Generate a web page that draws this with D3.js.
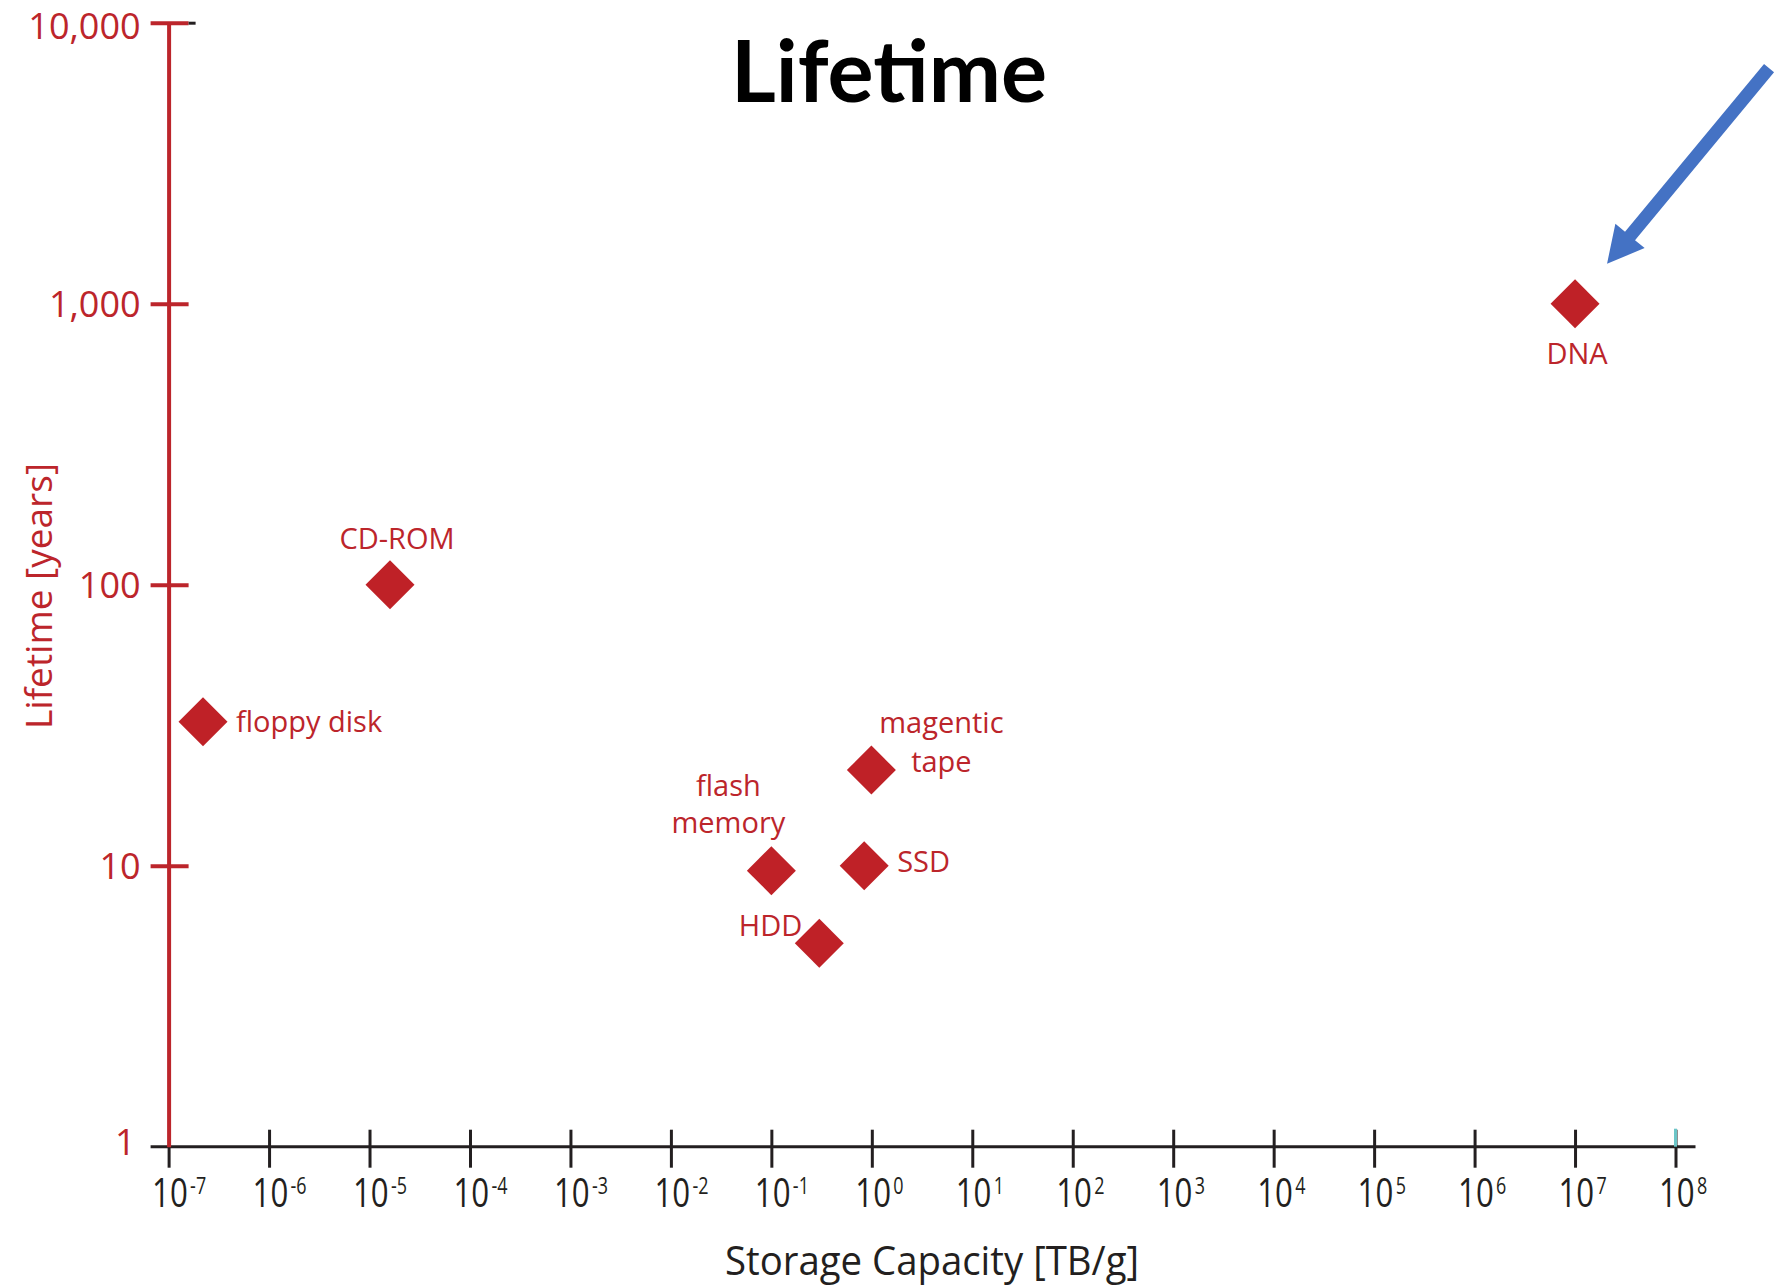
<!DOCTYPE html>
<html><head><meta charset="utf-8">
<script src="https://cdn.jsdelivr.net/npm/d3@7"></script>
<style>body{margin:0;background:#fff} svg{display:block}</style>
</head><body>
<svg id="c" width="1786" height="1287"></svg>
<script>
// ---- data ----
const names = ["floppy disk", "CD-ROM", "flash memory", "SSD", "magentic tape", "HDD", "DNA"];
const capacity = [2.2e-7, 1.6e-5, 0.1, 0.84, 0.99, 0.3, 1e7];   // TB/g
const lifetime = [32.5, 100, 9.6, 10, 21.9, 5.3, 1000];         // years
const labelLines = [["floppy disk"], ["CD-ROM"], ["flash", "memory"], ["SSD"], ["magentic", "tape"], ["HDD"], ["DNA"]];
const xTickExponents = [-7, -6, -5, -4, -3, -2, -1, 0, 1, 2, 3, 4, 5, 6, 7, 8];
const yTickValues = [1, 10, 100, 1000, 10000];
const titleText = "Lifetime";
const xTitleText = "Storage Capacity [TB/g]";
const yTitleText = "Lifetime [years]";
const highlighted = "DNA";

// ---- style / layout ----
const RED = "#bc252b", DIAMOND = "#bf2127", DARK = "#231f20", BLUE = "#4472c4";
const FONT = "'Open Sans', 'Noto Sans', sans-serif";
// label placement relative to its point: anchor, dx, dy of first baseline, line step
const labelLayout = {
  "floppy disk":   {anchor: "start",  dx: 33,  dy: 10,  step: 0},
  "CD-ROM":        {anchor: "middle", dx: 7,   dy: -36, step: 0},
  "flash memory":  {anchor: "middle", dx: -43, dy: -75, step: 37},
  "SSD":           {anchor: "start",  dx: 33,  dy: 6,   step: 0},
  "magentic tape": {anchor: "middle", dx: 70,  dy: -37, step: 38.5},
  "HDD":           {anchor: "end",    dx: -17, dy: -7,  step: 0},
  "DNA":           {anchor: "middle", dx: 2,   dy: 60,  step: 0}
};

const svg = d3.select("#c");
svg.append("rect").attr("width", 1786).attr("height", 1287).attr("fill", "#fff");

const x = d3.scaleLog().domain([1e-7, 1e8]).range([168.6, 1675.5]);
const y = d3.scaleLog().domain([1, 1e4]).range([1146.7, 22.7]);

// ---- X axis ----
const gx = svg.append("g").attr("transform", `translate(0,${y(1)})`)
  .call(d3.axisBottom(x).tickValues(xTickExponents.map(e => Math.pow(10, e))).tickSize(0).tickFormat(""));
gx.select(".domain").remove();
gx.append("line").attr("x1", x.range()[0] - 18).attr("x2", x.range()[1] + 20)
  .attr("stroke", DARK).attr("stroke-width", 3);
gx.selectAll(".tick line")
  .attr("y1", (d, i) => i === 0 ? 0 : -17).attr("y2", 21)
  .attr("stroke", DARK).attr("stroke-width", 3);
gx.selectAll(".tick").each(function (d, i) {
  const t = d3.select(this).append("text")
    .attr("text-anchor", "start")
    .attr("transform", "translate(-17,60) scale(0.78,1)")
    .attr("font-family", FONT).attr("fill", DARK);
  t.append("tspan").attr("font-size", 40).text("10");
  t.append("tspan").attr("font-size", 23).attr("dx", 3).attr("dy", -13)
    .text(String(xTickExponents[i]));
});
// small cyan mark at the last tick (as in the original image)
gx.append("line").attr("x1", x(1e8)).attr("x2", x(1e8)).attr("y1", -18).attr("y2", 0)
  .attr("stroke", "#6cc6c8").attr("stroke-width", 3);

// ---- Y axis ----
const gy = svg.append("g").attr("transform", `translate(${x(1e-7)},0)`)
  .call(d3.axisLeft(y).tickValues(yTickValues).tickSize(0).tickSizeOuter(0).tickFormat(d3.format(",")));
gy.select(".domain").attr("stroke", RED).attr("stroke-width", 4);
gy.selectAll(".tick line")
  .attr("x1", -18).attr("x2", 20)
  .attr("stroke", d => d === 1 ? "none" : RED).attr("stroke-width", 4);
gy.selectAll(".tick").filter(d => d === 10000).append("line")
  .attr("x1", 20).attr("x2", 27).attr("stroke", DARK).attr("stroke-width", 3);
gy.selectAll(".tick text")
  .attr("text-anchor", "end")
  .attr("x", d => d === 1 ? -33 : -28).attr("dy", null)
  .attr("y", d => d === 1 ? 8 : (d === 10000 ? 15.5 : 13))
  .attr("font-family", FONT).attr("font-size", 36).attr("fill", RED);

// ---- titles ----
svg.append("text").text(titleText)
  .attr("x", 889).attr("y", 101.7).attr("text-anchor", "middle")
  .attr("textLength", 316).attr("lengthAdjust", "spacingAndGlyphs")
  .attr("font-family", "Lato, 'Open Sans', sans-serif").attr("font-weight", 700)
  .attr("font-size", 86).attr("fill", "#000");
svg.append("text").text(xTitleText)
  .attr("x", 932).attr("y", 1275).attr("text-anchor", "middle")
  .attr("textLength", 414).attr("lengthAdjust", "spacingAndGlyphs")
  .attr("font-family", FONT).attr("font-size", 40).attr("fill", DARK);
svg.append("text").text(yTitleText)
  .attr("transform", "translate(52,596) rotate(-90)").attr("text-anchor", "middle")
  .attr("textLength", 266).attr("lengthAdjust", "spacingAndGlyphs")
  .attr("font-family", FONT).attr("font-size", 37).attr("fill", RED);

// ---- points ----
const pts = names.map((n, i) => ({name: n, cap: capacity[i], life: lifetime[i], lines: labelLines[i]}));
const diamond = d3.symbol().type(d3.symbolSquare).size(1200);
svg.append("g").selectAll("path").data(pts).join("path")
  .attr("d", diamond)
  .attr("transform", d => `translate(${x(d.cap)},${y(d.life)}) rotate(45)`)
  .attr("fill", DIAMOND);

const lbl = svg.append("g").selectAll("text").data(pts).join("text")
  .attr("text-anchor", d => labelLayout[d.name].anchor)
  .attr("font-family", FONT).attr("font-size", 29).attr("fill", RED);
lbl.each(function (d) {
  const L = labelLayout[d.name];
  d3.select(this).selectAll("tspan").data(d.lines).join("tspan")
    .attr("x", x(d.cap) + L.dx)
    .attr("y", (t, j) => y(d.life) + L.dy + j * L.step)
    .text(t => t);
});

// ---- arrow pointing at DNA ----
const dna = pts.find(p => p.name === highlighted);
const tip = [x(dna.cap) + 32, y(dna.life) - 40];
const tail = [x(dna.cap) + 194, y(dna.life) - 235.5];
const dx = tip[0] - tail[0], dy = tip[1] - tail[1];
const len = Math.hypot(dx, dy);
const u = [dx / len, dy / len], n = [-u[1], u[0]];
const headLen = 36, headHalf = 19, shaftHalf = 6.5;
const base = [tip[0] - u[0] * headLen, tip[1] - u[1] * headLen];
const P = (p, w) => [p[0] + n[0] * w, p[1] + n[1] * w];
const arrowPts = [
  P(tail, shaftHalf), P(base, shaftHalf), P(base, headHalf), tip,
  P(base, -headHalf), P(base, -shaftHalf), P(tail, -shaftHalf)
];
svg.append("path").attr("d", d3.line()(arrowPts) + "Z").attr("fill", BLUE);
</script>
</body></html>
